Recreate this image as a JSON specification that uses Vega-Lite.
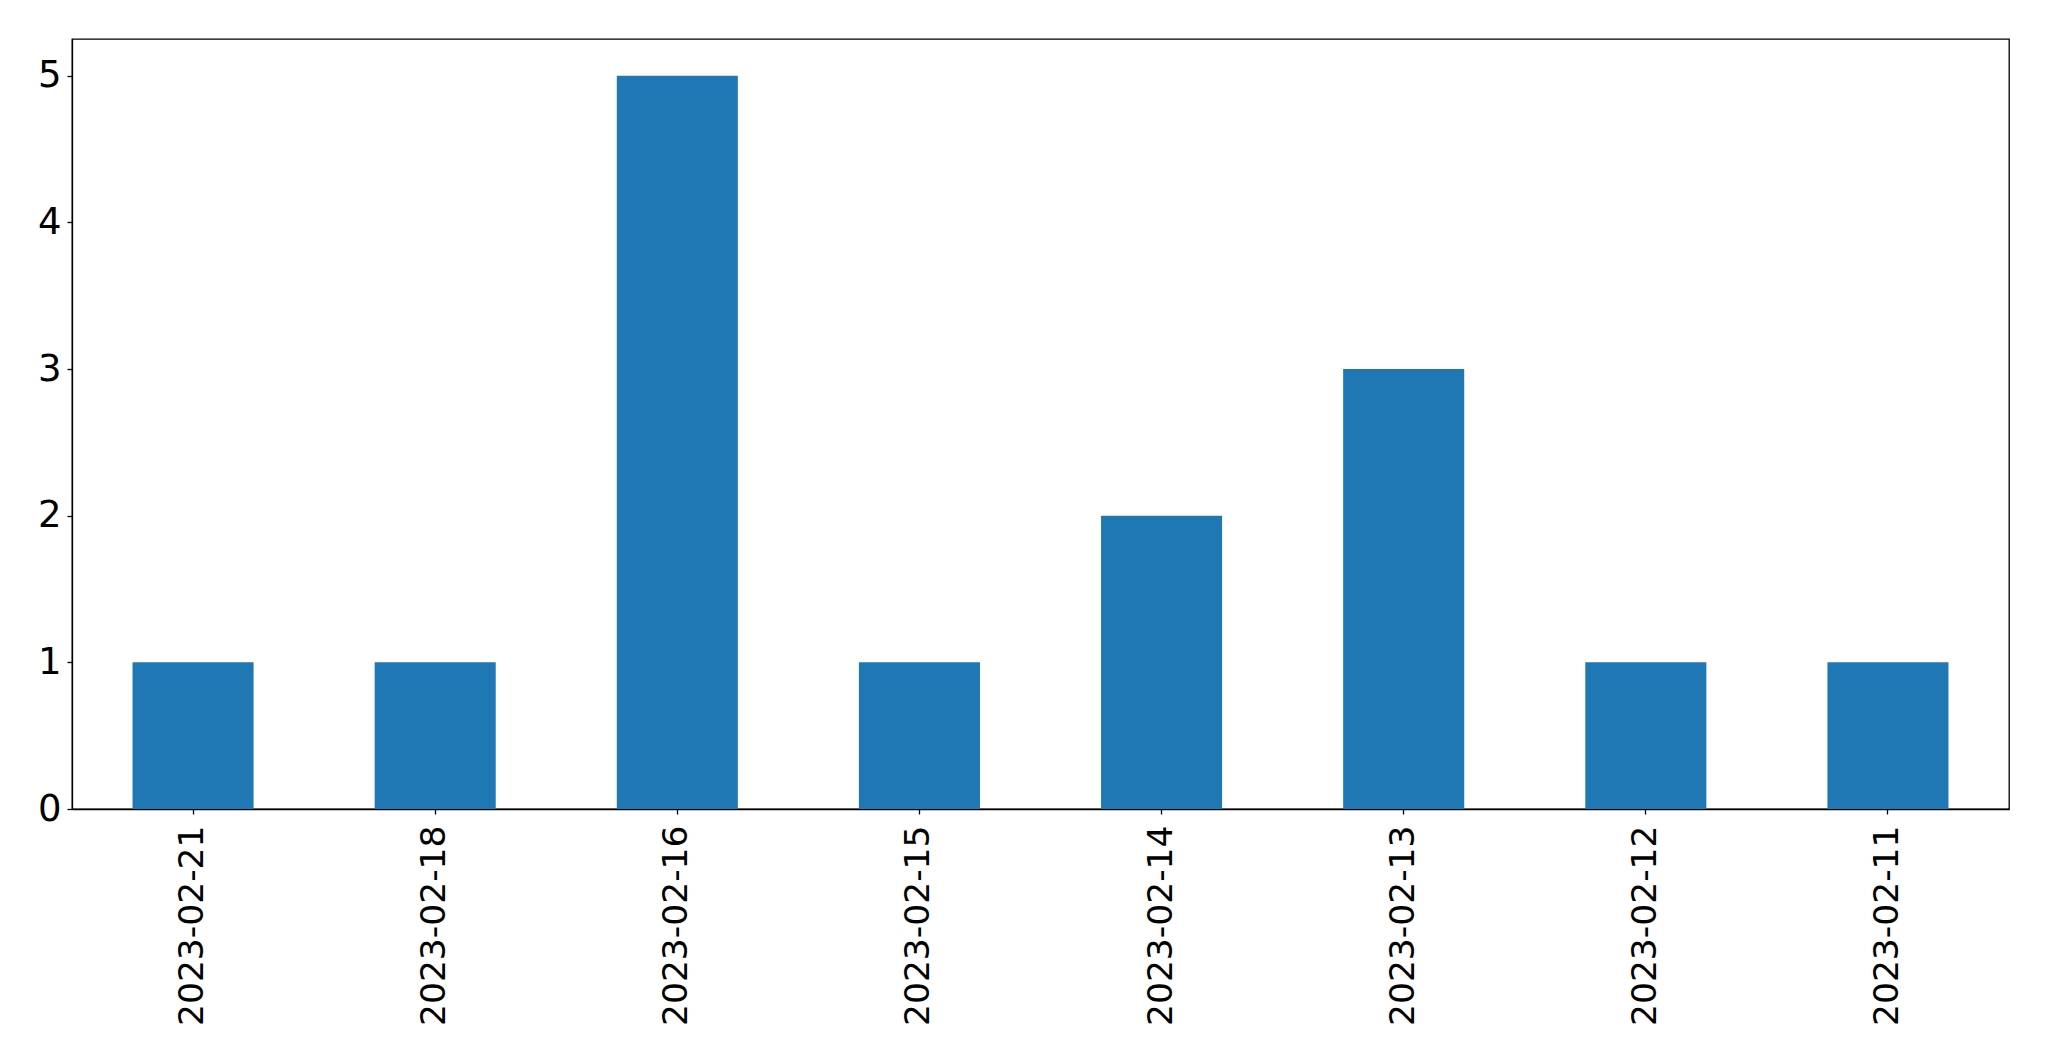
{
  "$schema": "https://vega.github.io/schema/vega-lite/v6.json",
  "width": 1937,
  "height": 770,
  "autosize": {"type": "none"},
  "padding": {"left": 72, "top": 39, "right": 40, "bottom": 252},
  "background": "white",
  "config": {
    "view": {"stroke": "black", "strokeWidth": 1.3},
    "axis": {
      "grid": false,
      "labelFont": "DejaVu Sans",
      "labelFontSize": 36,
      "labelLimit": 0,
      "labelColor": "black",
      "domainColor": "black",
      "domainWidth": 1.3,
      "tickColor": "black",
      "tickWidth": 1.3,
      "tickSize": 5,
      "title": null
    }
  },
  "data": {
    "values": [
      {"date": "2023-02-21", "count": 1},
      {"date": "2023-02-18", "count": 1},
      {"date": "2023-02-16", "count": 5},
      {"date": "2023-02-15", "count": 1},
      {"date": "2023-02-14", "count": 2},
      {"date": "2023-02-13", "count": 3},
      {"date": "2023-02-12", "count": 1},
      {"date": "2023-02-11", "count": 1}
    ]
  },
  "mark": {"type": "bar", "color": "#1f77b4"},
  "encoding": {
    "x": {
      "field": "date",
      "type": "nominal",
      "sort": null,
      "scale": {"paddingInner": 0.5, "paddingOuter": 0.25},
      "axis": {"labelAngle": 270, "labelPadding": 11, "labelFontSize": 34.5}
    },
    "y": {
      "field": "count",
      "type": "quantitative",
      "scale": {"domain": [0, 5.25], "nice": false},
      "axis": {"values": [0, 1, 2, 3, 4, 5], "labelPadding": 6, "labelFontSize": 37}
    }
  }
}
